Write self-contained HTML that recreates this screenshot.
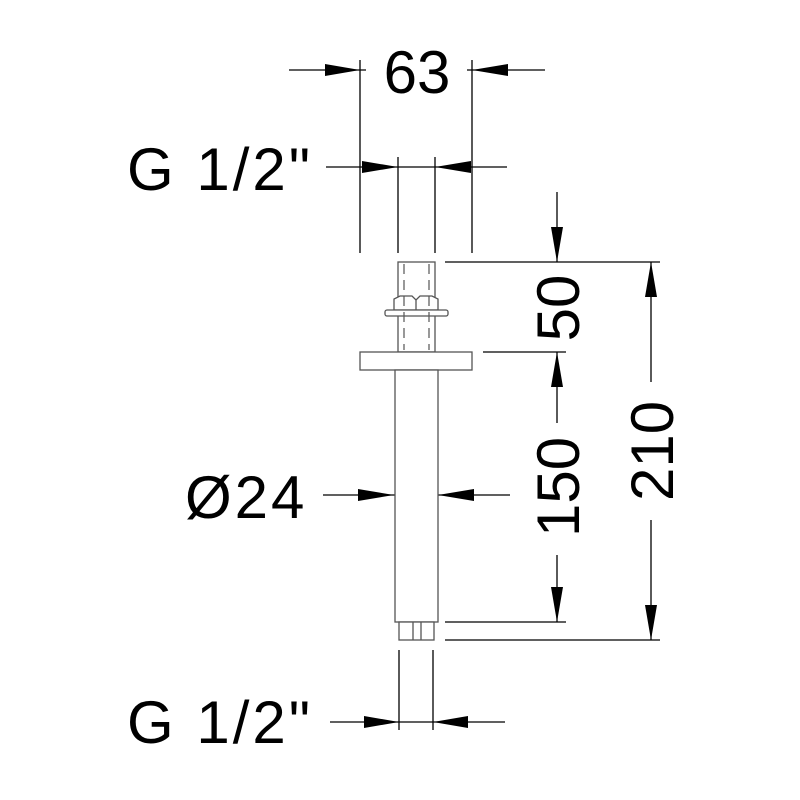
<!DOCTYPE html>
<html><head><meta charset="utf-8"><style>
html,body{margin:0;padding:0;background:#fff}
svg{display:block}
text{font-family:"Liberation Sans",sans-serif;font-size:60px;fill:#000}
</style></head><body>
<svg width="800" height="800" viewBox="0 0 800 800" xmlns="http://www.w3.org/2000/svg">
<g stroke="#000" stroke-width="1.3" fill="none">
<line x1="360" y1="60" x2="360" y2="253"/>
<line x1="472" y1="60" x2="472" y2="253"/>
<line x1="398" y1="157" x2="398" y2="253"/>
<line x1="435" y1="157" x2="435" y2="253"/>
<line x1="289" y1="70" x2="366" y2="70"/>
<line x1="467" y1="70" x2="545" y2="70"/>
<line x1="326" y1="167" x2="507" y2="167"/>
<line x1="323" y1="495" x2="510" y2="495"/>
<line x1="399" y1="650" x2="399" y2="730"/>
<line x1="433" y1="650" x2="433" y2="730"/>
<line x1="330" y1="722" x2="505" y2="722"/>
<line x1="445" y1="262" x2="660" y2="262"/>
<line x1="483" y1="352" x2="566" y2="352"/>
<line x1="445" y1="622" x2="566" y2="622"/>
<line x1="445" y1="640" x2="660" y2="640"/>
<line x1="557" y1="192" x2="557" y2="262"/>
<line x1="557" y1="352" x2="557" y2="423"/>
<line x1="557" y1="555" x2="557" y2="622"/>
<line x1="651" y1="262" x2="651" y2="382"/>
<line x1="651" y1="520" x2="651" y2="640"/>
</g>
<g fill="#000">
<polygon points="360,70 325,64 325,76"/>
<polygon points="472,70 508,64 508,76"/>
<polygon points="398,167 362,161 362,173"/>
<polygon points="435,167 471,161 471,173"/>
<polygon points="394,495 358,489 358,501"/>
<polygon points="438,495 474,489 474,501"/>
<polygon points="399,722 364,716 364,728"/>
<polygon points="433,722 468,716 468,728"/>
<polygon points="557,262 551,227 563,227"/>
<polygon points="557,352 551,387 563,387"/>
<polygon points="557,622 551,587 563,587"/>
<polygon points="651,262 645,297 657,297"/>
<polygon points="651,640 645,605 657,605"/>
</g>
<g stroke="#555" stroke-width="1.3" fill="#fff">
<rect x="398" y="262" width="37" height="90"/>
<path d="M394,310 L394,299 L400,296 L412,296 L416,300 L420,296 L432,296 L438,299 L438,310 Z"/>
<line x1="416" y1="300" x2="416" y2="310"/>
<rect x="385" y="310" width="63" height="6" rx="2"/>
<rect x="360" y="352" width="112" height="18"/>
<rect x="395" y="370" width="43" height="252"/>
<rect x="399" y="622" width="35" height="18"/>
<line x1="413" y1="622" x2="413" y2="640"/>
<line x1="421" y1="622" x2="421" y2="640"/>
</g>
<g stroke="#555" stroke-width="1.2" stroke-dasharray="10,6">
<line x1="404" y1="264" x2="404" y2="350"/>
<line x1="429" y1="264" x2="429" y2="350"/>
</g>
<text x="417" y="93" text-anchor="middle">63</text>
<text x="127" y="190" letter-spacing="3">G 1/2"</text>
<text x="185" y="518" letter-spacing="3">Ø24</text>
<text x="127" y="743" letter-spacing="3">G 1/2"</text>
<text transform="translate(579,308) rotate(-90)" text-anchor="middle">50</text>
<text transform="translate(579,487) rotate(-90)" text-anchor="middle">150</text>
<text transform="translate(673,451) rotate(-90)" text-anchor="middle">210</text>
</svg>
</body></html>
